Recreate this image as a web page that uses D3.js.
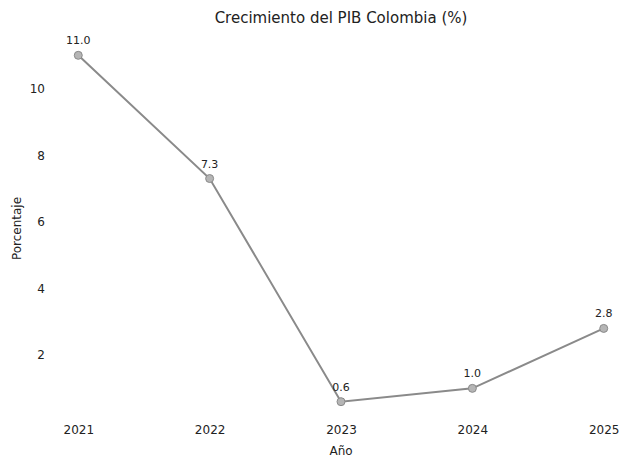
<!DOCTYPE html>
<html>
<head>
<meta charset="utf-8">
<script src="https://cdn.jsdelivr.net/npm/d3@7"></script>
<style>
  body { margin: 0; background: #fff; }
  text { font-family: "DejaVu Sans", sans-serif; fill: #222; }
</style>
</head>
<body>
<div id="chart"></div>
<script>
// datos
var years = [2021, 2022, 2023, 2024, 2025];
var growth = [11.0, 7.3, 0.6, 1.0, 2.8];
var yTicks = [2, 4, 6, 8, 10];

var width = 631, height = 459;
var margin = {top: 38, right: 1, bottom: 40, left: 52};

var svg = d3.select("#chart").append("svg")
  .attr("width", width)
  .attr("height", height);

// matplotlib style margins (5% of the range)
var xPad = (years[years.length - 1] - years[0]) * 0.05;
var yMin = d3.min(growth), yMax = d3.max(growth);
var yPad = (yMax - yMin) * 0.05;

var x = d3.scaleLinear()
  .domain([years[0] - xPad, years[years.length - 1] + xPad])
  .range([margin.left, width - margin.right]);

var y = d3.scaleLinear()
  .domain([yMin - yPad, yMax + yPad])
  .range([height - margin.bottom, margin.top]);

// axes without lines or tick marks
var xAxis = svg.append("g")
  .attr("transform", "translate(0," + (height - margin.bottom) + ")")
  .call(d3.axisBottom(x).tickValues(years).tickFormat(d3.format("d")).tickSize(0).tickPadding(6));
xAxis.select(".domain").remove();
xAxis.selectAll("text").style("font-size", "12px").style("font-family", "DejaVu Sans");

var yAxis = svg.append("g")
  .attr("transform", "translate(" + margin.left + ",0)")
  .call(d3.axisLeft(y).tickValues(yTicks).tickSize(0).tickPadding(7));
yAxis.select(".domain").remove();
yAxis.selectAll("text").style("font-size", "12px").style("font-family", "DejaVu Sans");

// title and axis labels
svg.append("text")
  .attr("x", (margin.left + width - margin.right) / 2)
  .attr("y", 23)
  .attr("text-anchor", "middle")
  .style("font-size", "15px")
  .text("Crecimiento del PIB Colombia (%)");

svg.append("text")
  .attr("x", (margin.left + width - margin.right) / 2)
  .attr("y", 455)
  .attr("text-anchor", "middle")
  .style("font-size", "12px")
  .text("Año");

svg.append("text")
  .attr("transform", "translate(21," + ((margin.top + height - margin.bottom) / 2) + ") rotate(-90)")
  .attr("text-anchor", "middle")
  .style("font-size", "12px")
  .text("Porcentaje");

var pts = years.map(function(d, i){ return {year: d, value: growth[i]}; });

var line = d3.line()
  .x(function(d){ return x(d.year); })
  .y(function(d){ return y(d.value); });

svg.append("path")
  .datum(pts)
  .attr("d", line)
  .attr("fill", "none")
  .attr("stroke", "#8a8a8a")
  .attr("stroke-width", 2);

svg.selectAll("circle.pt")
  .data(pts)
  .enter()
  .append("circle")
  .attr("class", "pt")
  .attr("cx", function(d){ return x(d.year); })
  .attr("cy", function(d){ return y(d.value); })
  .attr("r", 4)
  .attr("fill", "#b5b5b5")
  .attr("stroke", "#8a8a8a")
  .attr("stroke-width", 1);

svg.selectAll("text.lbl")
  .data(pts)
  .enter()
  .append("text")
  .attr("class", "lbl")
  .attr("x", function(d){ return x(d.year); })
  .attr("y", function(d){ return y(d.value) - 11; })
  .attr("text-anchor", "middle")
  .style("font-size", "11px")
  .text(function(d){ return d3.format(".1f")(d.value); });
</script>
</body>
</html>
